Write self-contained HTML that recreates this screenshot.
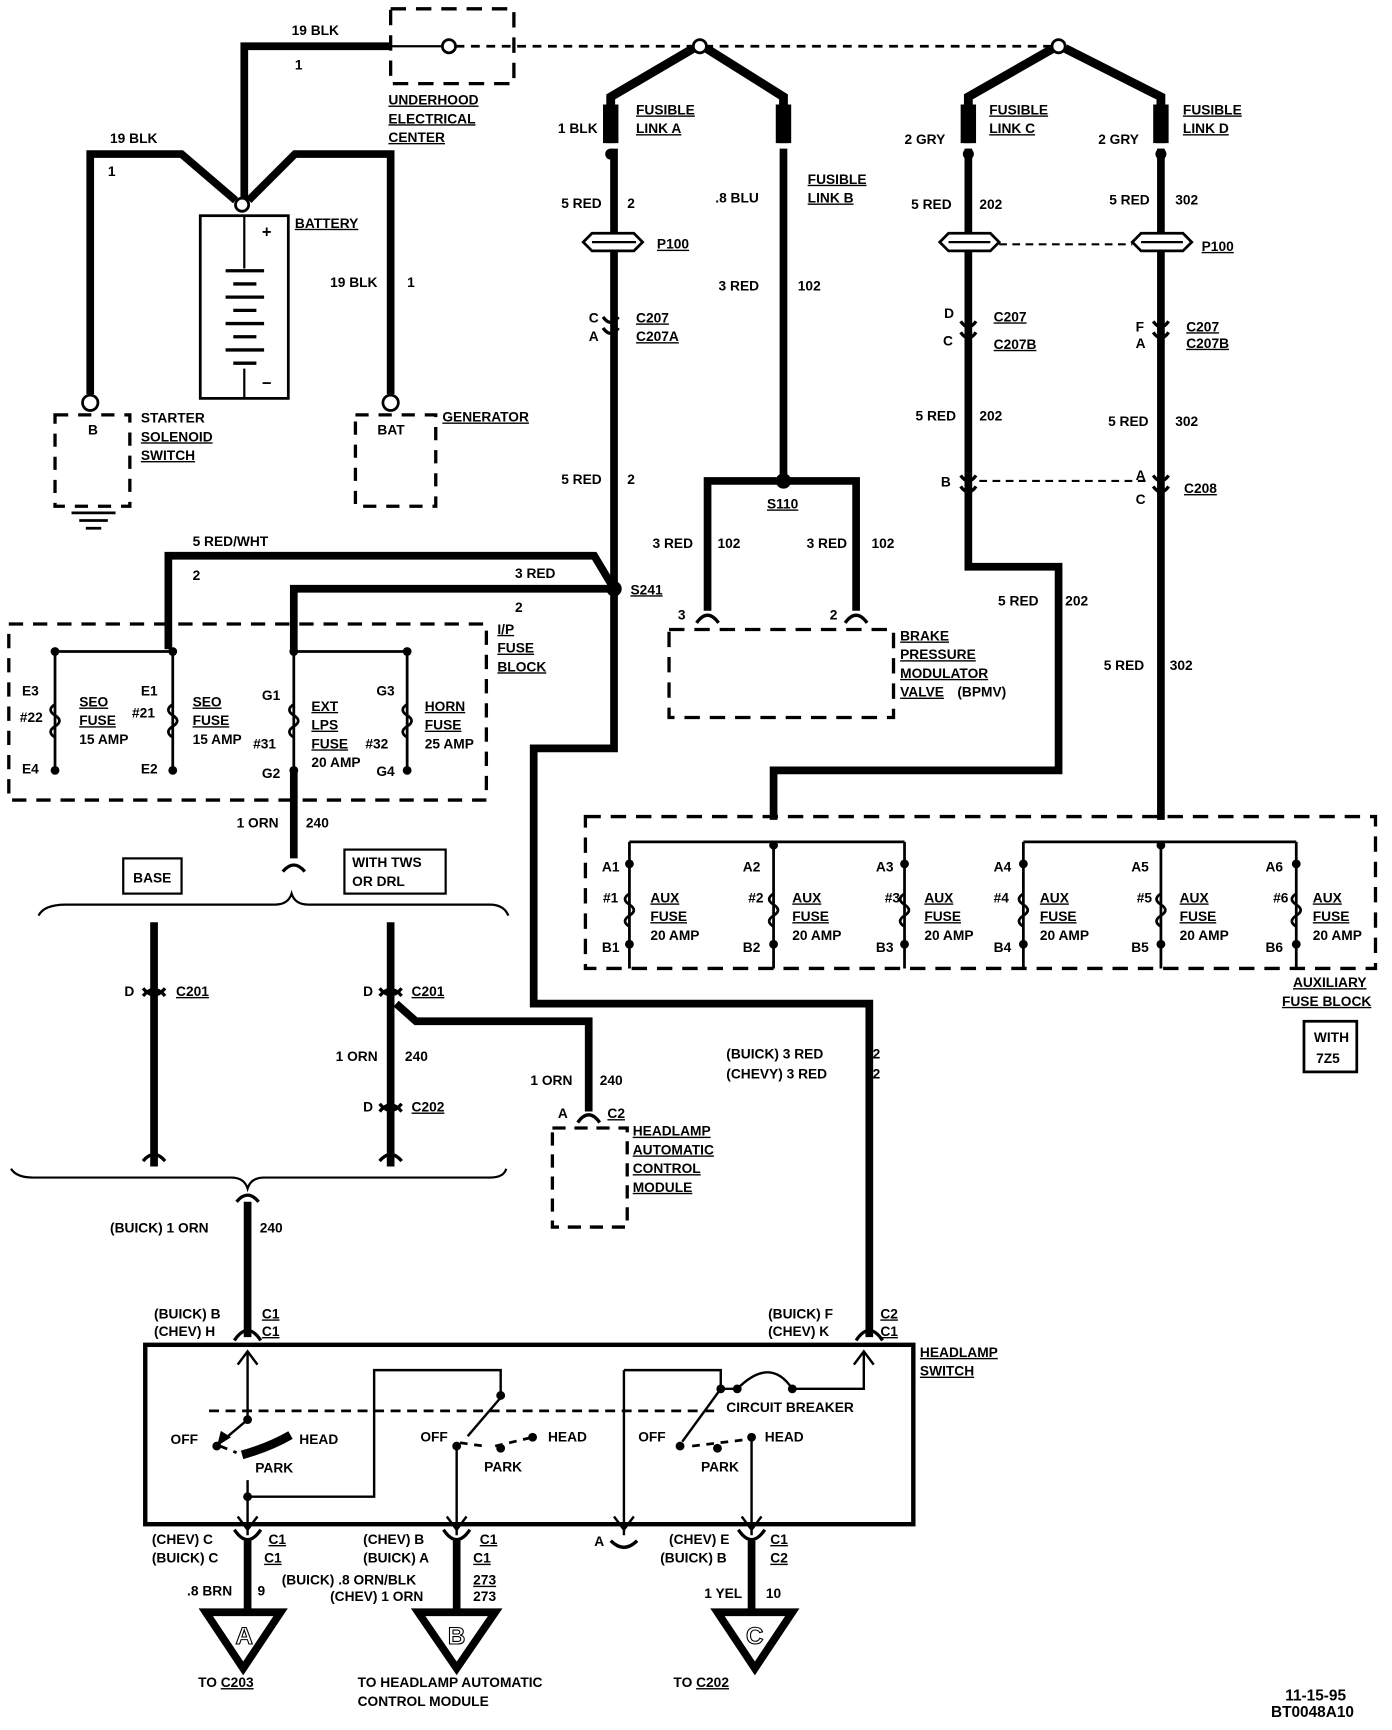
<!DOCTYPE html>
<html><head><meta charset="utf-8"><style>
html,body{margin:0;padding:0;background:#fff}
svg{display:block}
text{font-family:"Liberation Sans",sans-serif;font-weight:bold;font-size:12.5px;fill:#000}
.u{text-decoration:underline}
</style></head><body>
<svg width="1392" height="1730" viewBox="0 0 1265 1572" preserveAspectRatio="none" xmlns="http://www.w3.org/2000/svg">
<g fill="none" stroke="#000" stroke-linejoin="miter">
<path d="M222 185 V42 H355" stroke-width="7"/>
<path d="M355 42 H402" stroke-width="2"/>
<circle cx="408" cy="42" r="6" stroke-width="2.5" fill="#fff"/>
<path d="M414 42 H630 M640 42 H958" stroke-width="2.5" stroke-dasharray="8 6"/>
<rect x="355" y="8" width="112" height="68" stroke-width="3" stroke-dasharray="14 9"/>
<path d="M82 358 V140 H165 L214 182" stroke-width="7"/>
<path d="M226 182 L268 140 H355 V358" stroke-width="7"/>
<circle cx="220" cy="186" r="6" stroke-width="2.5" fill="#fff"/>
<rect x="182" y="196" width="80" height="166" stroke-width="2.5"/>
<path d="M222 196 V244 M222 335 V362" stroke-width="2"/>
<g stroke-width="3"><path d="M205 246 H240 M212 258 H233 M205 270 H240 M212 282 H233 M205 294 H240 M212 306 H233 M205 318 H240 M212 330 H233"/></g>
<circle cx="82" cy="366" r="7" stroke-width="2.5" fill="#fff"/>
<circle cx="355" cy="366" r="7" stroke-width="2.5" fill="#fff"/>
<rect x="50" y="377" width="68" height="83" stroke-width="3" stroke-dasharray="12 9"/>
<rect x="323" y="377" width="73" height="83" stroke-width="3" stroke-dasharray="12 9"/>
<path d="M65 466 H105 M72 473 H98 M78 480 H92" stroke-width="2.5"/>
<path d="M630 44 L555 88 V130 M642 44 L712 88 V130" stroke-width="8"/>
<path d="M555 95 V130 M712 95 V130" stroke-width="14"/>
<path d="M957 44 L880 88 V130 M968 44 L1055 88 V130" stroke-width="8"/>
<path d="M880 95 V130 M1055 95 V130" stroke-width="14"/>
<circle cx="636" cy="42" r="6" stroke-width="2.5" fill="#fff"/>
<circle cx="962" cy="42" r="6" stroke-width="2.5" fill="#fff"/>
<path d="M558 135 V535 V680 H485 V912 H790 V1215" stroke-width="7"/>
<path d="M712 135 V437" stroke-width="7"/>
<path d="M643 555 V437 H778 V555" stroke-width="7"/>
<rect x="608" y="572" width="204" height="80" stroke-width="3" stroke-dasharray="14 9"/>
<path d="M880 135 V515 H962 V700 H703 V745" stroke-width="7"/>
<path d="M1055 135 V745" stroke-width="7"/>
<path d="M538 212 H576 L584 220 L576 228 H538 L530 220 Z" stroke-width="2.5" fill="#fff"/>
<path d="M538 220 H578" stroke-width="2"/>
<path d="M862 212 H900 L908 220 L900 228 H862 L854 220 Z" stroke-width="2.5" fill="#fff"/>
<path d="M862 220 H900" stroke-width="2"/>
<path d="M1037 212 H1075 L1083 220 L1075 228 H1037 L1029 220 Z" stroke-width="2.5" fill="#fff"/>
<path d="M1037 220 H1075" stroke-width="2"/>
<path d="M908 222 H1029" stroke-width="2" stroke-dasharray="7 5"/>
<path d="M890 437 H1045" stroke-width="2" stroke-dasharray="7 5"/>
<circle cx="712" cy="437" r="7" fill="#000" stroke="none"/>
<circle cx="558" cy="535" r="7" fill="#000" stroke="none"/>
<path d="M153 590 V505 H540 L558 535" stroke-width="7"/>
<path d="M267 590 V535 H558" stroke-width="7"/>
<rect x="8" y="567" width="434" height="160" stroke-width="3" stroke-dasharray="13 9"/>
<path d="M50 592 H157 M267 592 H370" stroke-width="2.5"/>
<path d="M50 592 V700 M157 592 V700 M267 592 V700 M370 592 V700" stroke-width="2.5"/>
<path d="M267 700 V780" stroke-width="7"/>
<rect x="532" y="742" width="718" height="138" stroke-width="3" stroke-dasharray="14 9"/>
<path d="M572 765 H822 M930 765 H1178" stroke-width="2.5"/>
<path d="M572 765 V880 M703 765 V880 M822 765 V880 M930 765 V880 M1055 765 V880 M1178 765 V880" stroke-width="2.5"/>
<rect x="1185" y="928" width="48" height="46" stroke-width="2.5"/>
<rect x="112" y="780" width="53" height="32" stroke-width="2"/>
<rect x="313" y="772" width="92" height="40" stroke-width="2"/>
<path d="M35 832 Q40 822 60 822 H250 Q262 822 265 812 Q268 822 280 822 H445 Q458 822 462 832" stroke-width="2"/>
<path d="M140 838 V1060 M355 838 V1060" stroke-width="7"/>
<path d="M360 912 L378 928 H535 V1010" stroke-width="7"/>
<rect x="502" y="1025" width="68" height="90" stroke-width="3" stroke-dasharray="12 8"/>
<path d="M10 1062 Q15 1070 30 1070 H210 Q222 1070 225 1080 Q228 1070 240 1070 H445 Q458 1070 460 1062" stroke-width="2"/>
<path d="M225 1092 V1215" stroke-width="7"/>
<rect x="132" y="1222" width="698" height="163" stroke-width="4"/>
<g stroke-width="2.2">
<path d="M225 1230 V1290 M216 1240 L225 1228 L234 1240"/>
<path d="M225 1290 L200 1311"/>
<path d="M225 1345 V1395 M216 1378 L225 1390 L234 1378"/>
<path d="M225 1360 H340 V1245 H455 V1270"/>
<path d="M455 1270 L425 1305 M415 1312 V1395 M406 1378 L415 1390 L424 1378"/>
<path d="M567 1245 H655 V1262 H670 M567 1245 V1395 M558 1378 L567 1390 L576 1378"/>
<path d="M670 1262 Q700 1232 720 1262 H785 V1230 M776 1240 L785 1228 L794 1240"/>
<path d="M655 1262 L620 1310"/>
<path d="M683 1305 V1395 M674 1378 L683 1390 L692 1378"/>
</g>
<path d="M198 1313 L201 1301 L209 1306 Z" fill="#000" stroke-width="1"/>
<path d="M190 1282 H650" stroke-width="2.5" stroke-dasharray="9 6"/>
<path d="M200 1314 L215 1320 M450 1314 L484 1306 M629 1314 L679 1308 M418 1311 L440 1314" stroke-width="2.5" stroke-dasharray="7 6"/>
<path d="M220 1322 Q245 1315 264 1304" stroke-width="8"/>
<path d="M225 1400 V1465 M415 1400 V1465 M683 1400 V1465" stroke-width="7"/>
<path d="M187 1465 H255 L221 1516 Z M380 1465 H450 L415 1516 Z M652 1465 H720 L686 1516 Z" stroke-width="7" stroke-linejoin="miter"/>
</g>
<g fill="#000">
<circle cx="555" cy="140" r="5"/><circle cx="880" cy="140" r="5"/><circle cx="1055" cy="140" r="5"/>
<circle cx="50" cy="592" r="4"/><circle cx="157" cy="592" r="4"/><circle cx="267" cy="592" r="4"/><circle cx="370" cy="592" r="4"/>
<circle cx="50" cy="700" r="4"/><circle cx="157" cy="700" r="4"/><circle cx="267" cy="700" r="4"/><circle cx="370" cy="700" r="4"/>
<circle cx="572" cy="785" r="4"/><circle cx="703" cy="768" r="4"/><circle cx="822" cy="785" r="4"/><circle cx="930" cy="785" r="4"/><circle cx="1055" cy="768" r="4"/><circle cx="1178" cy="785" r="4"/>
<circle cx="572" cy="858" r="4"/><circle cx="703" cy="858" r="4"/><circle cx="822" cy="858" r="4"/><circle cx="930" cy="858" r="4"/><circle cx="1055" cy="858" r="4"/><circle cx="1178" cy="858" r="4"/>
<circle cx="225" cy="1290" r="4"/><circle cx="197" cy="1314" r="4"/><circle cx="225" cy="1360" r="4"/>
<circle cx="455" cy="1268" r="4"/><circle cx="415" cy="1314" r="4"/><circle cx="455" cy="1316" r="4"/><circle cx="484" cy="1306" r="4"/>
<circle cx="655" cy="1262" r="4"/><circle cx="670" cy="1262" r="4"/><circle cx="720" cy="1262" r="4"/><circle cx="618" cy="1314" r="4"/><circle cx="652" cy="1316" r="4"/><circle cx="683" cy="1306" r="4"/>
</g>
<g fill="none" stroke="#000" stroke-width="2.5">
<path d="M50 640 q-8 5 0 10 q8 5 0 10 q-8 5 0 10 M157 640 q-8 5 0 10 q8 5 0 10 q-8 5 0 10 M267 640 q-8 5 0 10 q8 5 0 10 q-8 5 0 10 M370 640 q-8 5 0 10 q8 5 0 10 q-8 5 0 10"/>
<path d="M572 812 q-8 5 0 10 q8 5 0 10 q-8 5 0 10 M703 812 q-8 5 0 10 q8 5 0 10 q-8 5 0 10 M822 812 q-8 5 0 10 q8 5 0 10 q-8 5 0 10 M930 812 q-8 5 0 10 q8 5 0 10 q-8 5 0 10 M1055 812 q-8 5 0 10 q8 5 0 10 q-8 5 0 10 M1178 812 q-8 5 0 10 q8 5 0 10 q-8 5 0 10"/>
</g>
<g fill="none" stroke="#000" stroke-width="3">
<path d="M548 288 q7 10 14 0 M548 298 q7 10 14 0"/>
<path d="M873 292 q7 10 14 0 M873 302 q7 10 14 0"/>
<path d="M1048 292 q7 10 14 0 M1048 302 q7 10 14 0"/>
<path d="M873 432 q7 10 14 0 M873 442 q7 10 14 0"/>
<path d="M1048 432 q7 10 14 0 M1048 442 q7 10 14 0"/>
<path d="M633 566 q10 -14 20 0 M768 566 q10 -14 20 0"/>
<path d="M130 905 q10 -12 20 0 M130 898 q10 12 20 0 M345 905 q10 -12 20 0 M345 898 q10 12 20 0 M345 1010 q10 -12 20 0 M345 1003 q10 12 20 0"/>
<path d="M130 1055 q10 -12 20 0 M345 1055 q10 -12 20 0 M257 792 q10 -12 20 0 M215 1092 q10 -12 20 0"/>
<path d="M525 1020 q10 -14 20 0"/>
<path d="M213 1218 q12 -18 24 0 M778 1218 q12 -18 24 0"/>
<path d="M213 1390 q12 18 24 0 M403 1390 q12 18 24 0 M555 1400 q12 12 24 0 M671 1390 q12 18 24 0"/>
</g>
<text x="265" y="32">19 BLK</text><text x="268" y="63">1</text>
<text x="353" y="95" class="u">UNDERHOOD</text><text x="353" y="112" class="u">ELECTRICAL</text><text x="353" y="129" class="u">CENTER</text>
<text x="100" y="130">19 BLK</text><text x="98" y="160">1</text>
<text x="268" y="207" class="u">BATTERY</text>
<text x="238" y="216" style="font-size:15px">+</text><text x="238" y="353" style="font-size:15px">−</text>
<text x="300" y="261">19 BLK</text><text x="370" y="261">1</text>
<text x="80" y="395">B</text><text x="343" y="395">BAT</text>
<text x="128" y="384">STARTER</text><text x="128" y="401" class="u">SOLENOID</text><text x="128" y="418" class="u">SWITCH</text>
<text x="402" y="383" class="u">GENERATOR</text>
<text x="507" y="121">1 BLK</text>
<text x="578" y="104" class="u">FUSIBLE</text><text x="578" y="121" class="u">LINK A</text>
<text x="734" y="167" class="u">FUSIBLE</text><text x="734" y="184" class="u">LINK B</text>
<text x="899" y="104" class="u">FUSIBLE</text><text x="899" y="121" class="u">LINK C</text>
<text x="1075" y="104" class="u">FUSIBLE</text><text x="1075" y="121" class="u">LINK D</text>
<text x="822" y="131">2 GRY</text><text x="998" y="131">2 GRY</text>
<text x="510" y="189">5 RED</text><text x="570" y="189">2</text>
<text x="650" y="184">.8 BLU</text>
<text x="828" y="190">5 RED</text><text x="890" y="190">202</text>
<text x="1008" y="186">5 RED</text><text x="1068" y="186">302</text>
<text x="597" y="226" class="u">P100</text><text x="1092" y="228" class="u">P100</text>
<text x="653" y="264">3 RED</text><text x="725" y="264">102</text>
<text x="535" y="293">C</text><text x="535" y="310">A</text>
<text x="578" y="293" class="u">C207</text><text x="578" y="310" class="u">C207A</text>
<text x="858" y="289">D</text><text x="857" y="314">C</text>
<text x="903" y="292" class="u">C207</text><text x="903" y="317" class="u">C207B</text>
<text x="1032" y="301">F</text><text x="1032" y="316">A</text>
<text x="1078" y="301" class="u">C207</text><text x="1078" y="316" class="u">C207B</text>
<text x="832" y="382">5 RED</text><text x="890" y="382">202</text>
<text x="1007" y="387">5 RED</text><text x="1068" y="387">302</text>
<text x="510" y="440">5 RED</text><text x="570" y="440">2</text>
<text x="855" y="442">B</text><text x="1032" y="436">A</text><text x="1032" y="458">C</text>
<text x="1076" y="448" class="u">C208</text>
<text x="697" y="462" class="u">S110</text>
<text x="175" y="496">5 RED/WHT</text><text x="175" y="527">2</text>
<text x="468" y="525">3 RED</text><text x="468" y="556">2</text>
<text x="573" y="540" class="u">S241</text>
<text x="593" y="498">3 RED</text><text x="652" y="498">102</text>
<text x="733" y="498">3 RED</text><text x="792" y="498">102</text>
<text x="616" y="563">3</text><text x="754" y="563">2</text>
<text x="818" y="582" class="u">BRAKE</text><text x="818" y="599" class="u">PRESSURE</text><text x="818" y="616" class="u">MODULATOR</text><text x="818" y="633" class="u">VALVE</text><text x="870" y="633">(BPMV)</text>
<text x="907" y="550">5 RED</text><text x="968" y="550">202</text>
<text x="1003" y="609">5 RED</text><text x="1063" y="609">302</text>
<text x="452" y="576" class="u">I/P</text><text x="452" y="593" class="u">FUSE</text><text x="452" y="610" class="u">BLOCK</text>
<text x="20" y="632">E3</text><text x="18" y="656">#22</text><text x="20" y="703">E4</text>
<text x="72" y="642" class="u">SEO</text><text x="72" y="659" class="u">FUSE</text><text x="72" y="676">15 AMP</text>
<text x="128" y="632">E1</text><text x="120" y="652">#21</text><text x="128" y="703">E2</text>
<text x="175" y="642" class="u">SEO</text><text x="175" y="659" class="u">FUSE</text><text x="175" y="676">15 AMP</text>
<text x="238" y="636">G1</text><text x="230" y="680">#31</text><text x="238" y="707">G2</text>
<text x="283" y="646" class="u">EXT</text><text x="283" y="663" class="u">LPS</text><text x="283" y="680" class="u">FUSE</text><text x="283" y="697">20 AMP</text>
<text x="342" y="632">G3</text><text x="332" y="680">#32</text><text x="342" y="705">G4</text>
<text x="386" y="646" class="u">HORN</text><text x="386" y="663" class="u">FUSE</text><text x="386" y="680">25 AMP</text>
<text x="215" y="752">1 ORN</text><text x="278" y="752">240</text>
<text x="121" y="802">BASE</text><text x="320" y="788">WITH TWS</text><text x="320" y="805">OR DRL</text>
<text x="547" y="792">A1</text><text x="548" y="820">#1</text><text x="547" y="865">B1</text>
<text x="591" y="820" class="u">AUX</text><text x="591" y="837" class="u">FUSE</text><text x="591" y="854">20 AMP</text>
<text x="675" y="792">A2</text><text x="680" y="820">#2</text><text x="675" y="865">B2</text>
<text x="720" y="820" class="u">AUX</text><text x="720" y="837" class="u">FUSE</text><text x="720" y="854">20 AMP</text>
<text x="796" y="792">A3</text><text x="804" y="820">#3</text><text x="796" y="865">B3</text>
<text x="840" y="820" class="u">AUX</text><text x="840" y="837" class="u">FUSE</text><text x="840" y="854">20 AMP</text>
<text x="903" y="792">A4</text><text x="903" y="820">#4</text><text x="903" y="865">B4</text>
<text x="945" y="820" class="u">AUX</text><text x="945" y="837" class="u">FUSE</text><text x="945" y="854">20 AMP</text>
<text x="1028" y="792">A5</text><text x="1033" y="820">#5</text><text x="1028" y="865">B5</text>
<text x="1072" y="820" class="u">AUX</text><text x="1072" y="837" class="u">FUSE</text><text x="1072" y="854">20 AMP</text>
<text x="1150" y="792">A6</text><text x="1157" y="820">#6</text><text x="1150" y="865">B6</text>
<text x="1193" y="820" class="u">AUX</text><text x="1193" y="837" class="u">FUSE</text><text x="1193" y="854">20 AMP</text>
<text x="1175" y="897" class="u">AUXILIARY</text><text x="1165" y="914" class="u">FUSE BLOCK</text>
<text x="1194" y="947">WITH</text><text x="1196" y="966">7Z5</text>
<text x="113" y="905">D</text><text x="160" y="905" class="u">C201</text>
<text x="330" y="905">D</text><text x="374" y="905" class="u">C201</text>
<text x="305" y="964">1 ORN</text><text x="368" y="964">240</text>
<text x="330" y="1010">D</text><text x="374" y="1010" class="u">C202</text>
<text x="482" y="986">1 ORN</text><text x="545" y="986">240</text>
<text x="507" y="1016">A</text><text x="552" y="1016" class="u">C2</text>
<text x="575" y="1032" class="u">HEADLAMP</text><text x="575" y="1049" class="u">AUTOMATIC</text><text x="575" y="1066" class="u">CONTROL</text><text x="575" y="1083" class="u">MODULE</text>
<text x="660" y="962">(BUICK) 3 RED</text><text x="793" y="962">2</text>
<text x="660" y="980">(CHEVY) 3 RED</text><text x="793" y="980">2</text>
<text x="100" y="1120">(BUICK) 1 ORN</text><text x="236" y="1120">240</text>
<text x="140" y="1198">(BUICK) B</text><text x="140" y="1214">(CHEV) H</text>
<text x="238" y="1198" class="u">C1</text><text x="238" y="1214" class="u">C1</text>
<text x="698" y="1198">(BUICK) F</text><text x="698" y="1214">(CHEV) K</text>
<text x="800" y="1198" class="u">C2</text><text x="800" y="1214" class="u">C1</text>
<text x="836" y="1233" class="u">HEADLAMP</text><text x="836" y="1250" class="u">SWITCH</text>
<text x="155" y="1312">OFF</text><text x="272" y="1312">HEAD</text><text x="232" y="1338">PARK</text>
<text x="382" y="1310">OFF</text><text x="498" y="1310">HEAD</text><text x="440" y="1337">PARK</text>
<text x="580" y="1310">OFF</text><text x="695" y="1310">HEAD</text><text x="637" y="1337">PARK</text>
<text x="660" y="1283">CIRCUIT BREAKER</text>
<text x="138" y="1403">(CHEV) C</text><text x="138" y="1420">(BUICK) C</text>
<text x="244" y="1403" class="u">C1</text><text x="240" y="1420" class="u">C1</text>
<text x="170" y="1450">.8 BRN</text><text x="234" y="1450">9</text>
<text x="330" y="1403">(CHEV) B</text><text x="330" y="1420">(BUICK) A</text>
<text x="436" y="1403" class="u">C1</text><text x="430" y="1420" class="u">C1</text>
<text x="256" y="1440">(BUICK) .8 ORN/BLK</text><text x="300" y="1455">(CHEV) 1 ORN</text>
<text x="430" y="1440" class="u">273</text><text x="430" y="1455">273</text>
<text x="540" y="1405">A</text>
<text x="608" y="1403">(CHEV) E</text><text x="600" y="1420">(BUICK) B</text>
<text x="700" y="1403" class="u">C1</text><text x="700" y="1420" class="u">C2</text>
<text x="640" y="1452">1 YEL</text><text x="696" y="1452">10</text>
<text x="214" y="1494" style="font-size:22px;fill:#fff;stroke:#000;stroke-width:1">A</text>
<text x="407" y="1494" style="font-size:22px;fill:#fff;stroke:#000;stroke-width:1">B</text>
<text x="678" y="1494" style="font-size:22px;fill:#fff;stroke:#000;stroke-width:1">C</text>
<text x="180" y="1533">TO <tspan class="u">C203</tspan></text>
<text x="325" y="1533">TO HEADLAMP AUTOMATIC</text><text x="325" y="1550">CONTROL MODULE</text>
<text x="612" y="1533">TO <tspan class="u">C202</tspan></text>
<text x="1168" y="1545" style="font-size:14px">11-15-95</text>
<text x="1155" y="1560" style="font-size:14px">BT0048A10</text>
</svg>
</body></html>
